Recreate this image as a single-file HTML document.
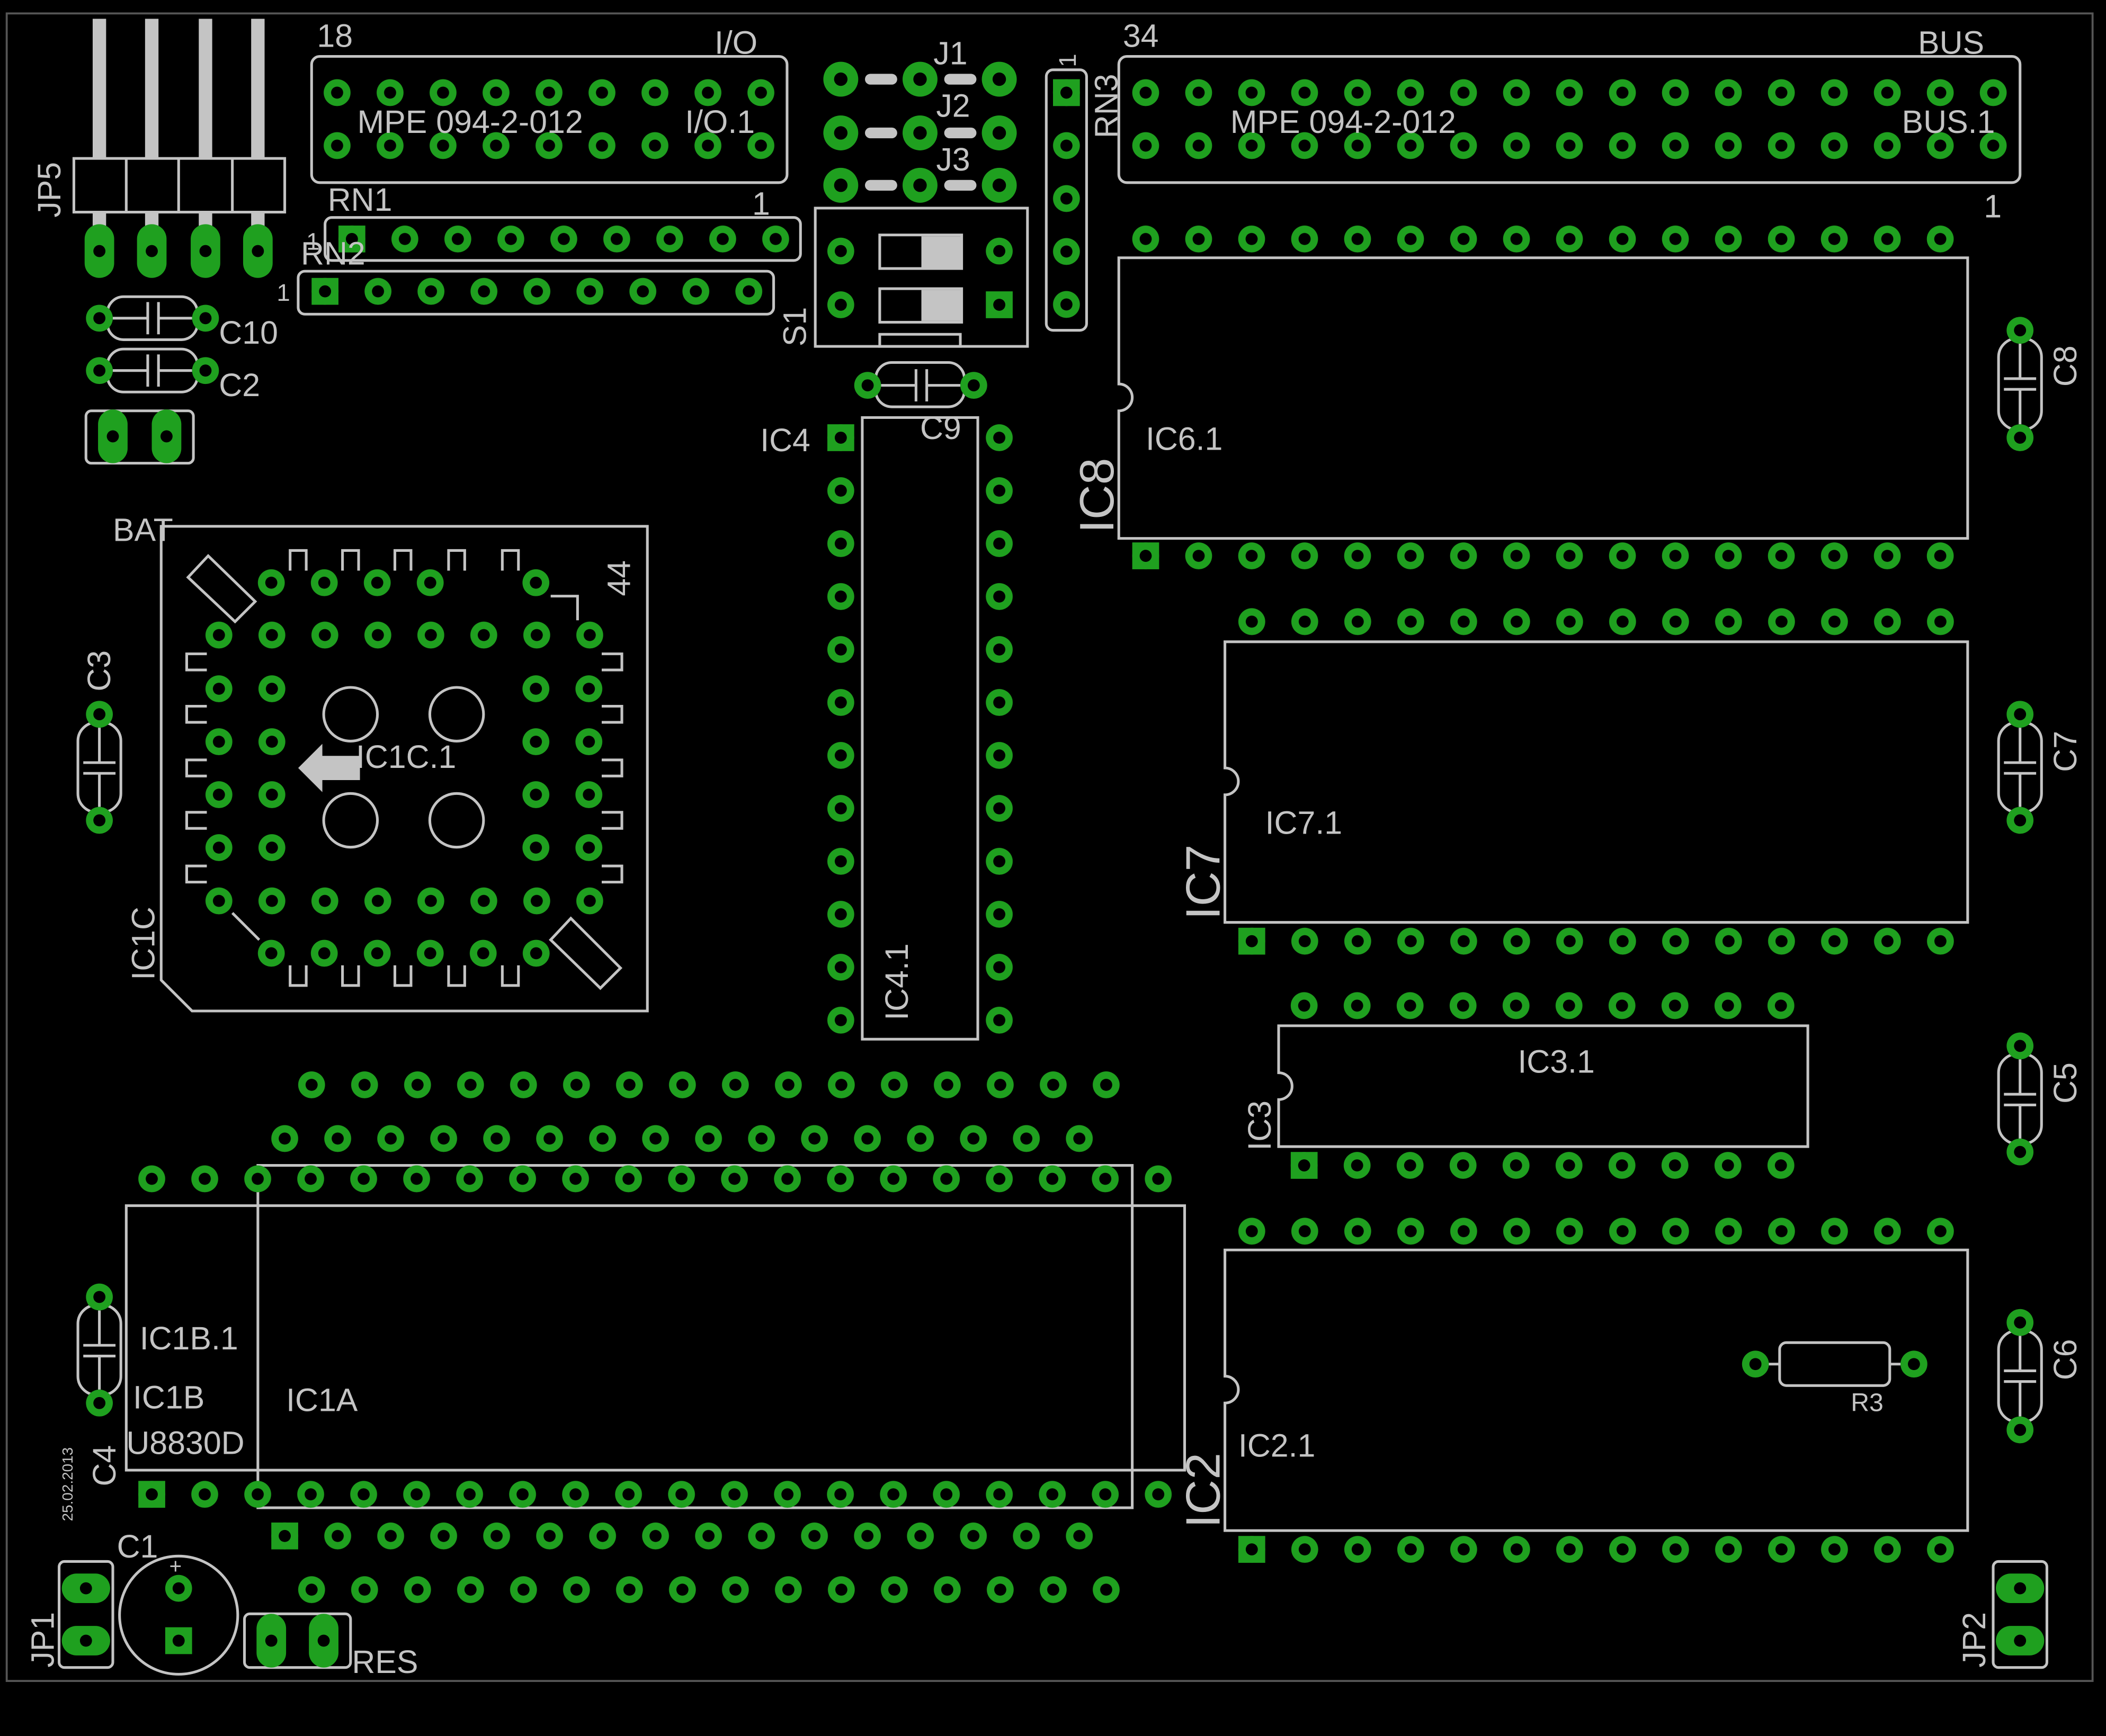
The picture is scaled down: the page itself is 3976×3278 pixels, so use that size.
<!DOCTYPE html>
<html><head><meta charset="utf-8"><style>
html,body{margin:0;padding:0;background:#000;}
svg{display:block;}
text{font-family:"Liberation Sans",sans-serif;fill:#c4c4c4;}
</style></head><body>
<svg width="3976" height="3278" viewBox="0 0 1568 1293" preserveAspectRatio="none" xmlns="http://www.w3.org/2000/svg" xmlns:xlink="http://www.w3.org/1999/xlink">
<defs>
<pattern id="pp" width="39.44" height="39.44" patternUnits="userSpaceOnUse"><circle cx="19.72" cy="19.72" r="10" fill="#1fa01f"/><circle cx="19.72" cy="19.72" r="4.5" fill="#000"/></pattern>
<g id="q"><rect x="-10" y="-10" width="20" height="20" fill="#1fa01f"/><circle r="4.5" fill="#000"/></g>
<g id="p"><circle r="10" fill="#1fa01f"/><circle r="4.5" fill="#000"/></g>
<g id="j"><circle r="13" fill="#1fa01f"/><circle r="5" fill="#000"/></g>
<g id="ov"><rect x="-11" y="-20" width="22" height="40" rx="11" fill="#1fa01f"/><circle r="4.5" fill="#000"/></g>
<g id="oh"><rect x="-18" y="-11" width="36" height="22" rx="11" fill="#1fa01f"/><circle r="4.5" fill="#000"/></g>
</defs>
<rect x="0" y="0" width="1568" height="1293" fill="#000"/>
<rect x="5" y="10" width="1553" height="1242" fill="none" stroke="#555" stroke-width="1.5"/>
<g fill="none" stroke="#c4c4c4" stroke-width="2">
<rect x="232" y="42" width="354" height="94" rx="6"/>
<rect x="833" y="42" width="671" height="94" rx="6"/>
<rect x="779" y="52" width="30" height="194" rx="5"/>
<rect x="242" y="162" width="354" height="32" rx="5"/>
<rect x="222" y="202" width="354" height="32" rx="5"/>
<rect x="607" y="155" width="158" height="103"/>
<rect x="655" y="249" width="60" height="9"/>
<rect x="652" y="270" width="66" height="33" rx="12"/>
<rect x="642" y="311" width="86" height="463"/>
<path d="M833 192H1465V401H833V306A10 10 0 0 0 833 286Z"/>
<path d="M912 478H1465V687H912V592A10 10 0 0 0 912 572Z"/>
<path d="M952 764H1346V854H952V819A10 10 0 0 0 952 799Z"/>
<path d="M912 931H1465V1140H912V1045A10 10 0 0 0 912 1025Z"/>
<rect x="1325" y="1000" width="82" height="32" rx="5"/>
<path d="M1317 1016H1325M1407 1016H1415"/>
<rect x="94" y="898" width="788" height="197"/>
<rect x="192" y="868" width="651" height="255"/>
<path d="M120 392H482V753H143L120 730Z"/>
<path d="M140 430L155 414L190 448L175 463Z"/>
<path d="M410 700L425 684L462 721L447 736Z"/>
<path d="M410 444H430V462"/>
<path d="M173 680L193 700"/>
<circle cx="261" cy="532" r="20"/><circle cx="340" cy="532" r="20"/>
<circle cx="261" cy="611" r="20"/><circle cx="340" cy="611" r="20"/>
<circle cx="133" cy="1203" r="44"/>
<rect x="64" y="306" width="80" height="39" rx="4"/>
<rect x="44" y="1163" width="40" height="79" rx="4"/>
<rect x="182" y="1202" width="79" height="40" rx="4"/>
<rect x="1484" y="1163" width="40" height="79" rx="4"/>
<rect x="55" y="118" width="157" height="40"/>
<path d="M94 118V158M133 118V158M173 118V158"/>
<rect x="1488" y="252" width="32" height="68" rx="14"/><path d="M1504 256V282M1504 290V316M1492 282H1516M1492 290H1516"/>
<rect x="1488" y="538" width="32" height="67" rx="14"/><path d="M1504 542V568M1504 576V601M1492 568H1516M1492 576H1516"/>
<rect x="1488" y="785" width="32" height="67" rx="14"/><path d="M1504 789V815M1504 823V848M1492 815H1516M1492 823H1516"/>
<rect x="1488" y="991" width="32" height="68" rx="14"/><path d="M1504 995V1021M1504 1029V1055M1492 1021H1516M1492 1029H1516"/>
<rect x="58" y="538" width="32" height="67" rx="14"/><path d="M74 542V568M74 576V601M62 568H86M62 576H86"/>
<rect x="58" y="972" width="32" height="67" rx="14"/><path d="M74 976V1002M74 1010V1035M62 1002H86M62 1010H86"/>
<path d="M656 287H682M690 287H715M682 275V299M690 275V299"/>
<rect x="80" y="221" width="67" height="32" rx="12"/><path d="M84 237H110M118 237H143M110 225V249M118 225V249"/>
<rect x="80" y="260" width="67" height="32" rx="12"/><path d="M84 276H110M118 276H143M110 264V288M118 264V288"/>
<rect x="655" y="175" width="61" height="25"/><rect x="655" y="215" width="61" height="25"/>
<path d="M216 425V410H228V425M255 425V410H267V425M294 425V410H306V425M334 425V410H346V425M374 425V410H386V425"/>
<path d="M216 719V734H228V719M255 719V734H267V719M294 719V734H306V719M334 719V734H346V719M374 719V734H386V719"/>
<path d="M154 487H139V499H154M154 526H139V538H154M154 566H139V578H154M154 605H139V617H154M154 645H139V657H154"/>
<path d="M448 487H463V499H448M448 526H463V538H448M448 566H463V578H448M448 605H463V617H448M448 645H463V657H448"/>
</g>
<g fill="#c4c4c4">
<rect x="686" y="176" width="30" height="23"/><rect x="686" y="216" width="30" height="23"/>
<path d="M222 572L240 554V563H268V581H240V590Z"/>
<rect x="644" y="55" width="24" height="8" rx="4"/><rect x="703" y="55" width="24" height="8" rx="4"/>
<rect x="644" y="95" width="24" height="8" rx="4"/><rect x="703" y="95" width="24" height="8" rx="4"/>
<rect x="644" y="134" width="24" height="8" rx="4"/><rect x="703" y="134" width="24" height="8" rx="4"/>
<rect x="69" y="14" width="10" height="104"/><rect x="108" y="14" width="10" height="104"/><rect x="148" y="14" width="10" height="104"/><rect x="187" y="14" width="10" height="104"/>
<rect x="69" y="158" width="10" height="12"/><rect x="108" y="158" width="10" height="12"/><rect x="148" y="158" width="10" height="12"/><rect x="187" y="158" width="10" height="12"/>
</g>
<g fill="url(#pp)">
<rect transform="translate(231.28,49.28)" width="354.96" height="78.88"/>
<rect transform="translate(833.28,49.28)" width="670.48" height="78.88"/>
<rect transform="translate(774.28,49.28)" width="39.44" height="197.2"/>
<rect transform="translate(242.28,158.28)" width="354.96" height="39.44"/>
<rect transform="translate(222.28,197.28)" width="354.96" height="39.44"/>
<rect transform="translate(606.28,306.28)" width="39.44" height="473.28"/>
<rect transform="translate(724.28,306.28)" width="39.44" height="473.28"/>
<rect transform="translate(833.28,158.28)" width="631.04" height="39.44"/>
<rect transform="translate(833.28,394.28)" width="631.04" height="39.44"/>
<rect transform="translate(912.28,443.28)" width="552.16" height="39.44"/>
<rect transform="translate(912.28,681.28)" width="552.16" height="39.44"/>
<rect transform="translate(951.28,729.28)" width="394.4" height="39.44"/>
<rect transform="translate(951.28,848.28)" width="394.4" height="39.44"/>
<rect transform="translate(912.28,897.28)" width="552.16" height="39.44"/>
<rect transform="translate(912.28,1134.28)" width="552.16" height="39.44"/>
<rect transform="translate(212.28,788.28)" width="631.04" height="39.44"/>
<rect transform="translate(192.28,828.28)" width="631.04" height="39.44"/>
<rect transform="translate(93.28,858.28)" width="788.8" height="39.44"/>
<rect transform="translate(93.28,1093.28)" width="788.8" height="39.44"/>
<rect transform="translate(192.28,1124.28)" width="631.04" height="39.44"/>
<rect transform="translate(212.28,1164.28)" width="631.04" height="39.44"/>
<rect transform="translate(143.28,453.28)" width="315.52" height="39.44"/>
<rect transform="translate(143.28,651.28)" width="315.52" height="39.44"/>
<rect transform="translate(143.28,493.28)" width="78.88" height="157.76"/>
<rect transform="translate(379.28,493.28)" width="78.88" height="157.76"/>
<rect transform="translate(182.28,414.28)" width="157.76" height="39.44"/>
<rect transform="translate(182.28,690.28)" width="236.64" height="39.44"/>
</g>
<use xlink:href="#j" x="626" y="59"/><use xlink:href="#j" x="685" y="59"/><use xlink:href="#j" x="744" y="59"/>
<use xlink:href="#j" x="626" y="99"/><use xlink:href="#j" x="685" y="99"/><use xlink:href="#j" x="744" y="99"/>
<use xlink:href="#j" x="626" y="138"/><use xlink:href="#j" x="685" y="138"/><use xlink:href="#j" x="744" y="138"/>
<use xlink:href="#p" x="626" y="187"/><use xlink:href="#p" x="744" y="187"/><use xlink:href="#p" x="626" y="227"/><use xlink:href="#q" x="744" y="227"/>
<use xlink:href="#p" x="399" y="434"/>
<use xlink:href="#q" x="794" y="69"/>
<use xlink:href="#q" x="262" y="178"/>
<use xlink:href="#q" x="242" y="217"/>
<use xlink:href="#q" x="626" y="326"/>
<use xlink:href="#q" x="853" y="414"/>
<use xlink:href="#q" x="932" y="701"/>
<use xlink:href="#q" x="971" y="868"/>
<use xlink:href="#q" x="932" y="1154"/>
<use xlink:href="#q" x="113" y="1113"/>
<use xlink:href="#q" x="212" y="1144"/>
<use xlink:href="#p" x="646" y="287"/><use xlink:href="#p" x="725" y="287"/>
<use xlink:href="#p" x="74" y="237"/><use xlink:href="#p" x="153" y="237"/>
<use xlink:href="#p" x="74" y="276"/><use xlink:href="#p" x="153" y="276"/>
<use xlink:href="#p" x="1504" y="246"/><use xlink:href="#p" x="1504" y="326"/>
<use xlink:href="#p" x="1504" y="532"/><use xlink:href="#p" x="1504" y="611"/>
<use xlink:href="#p" x="1504" y="779"/><use xlink:href="#p" x="1504" y="858"/>
<use xlink:href="#p" x="1504" y="985"/><use xlink:href="#p" x="1504" y="1065"/>
<use xlink:href="#p" x="74" y="532"/><use xlink:href="#p" x="74" y="611"/>
<use xlink:href="#p" x="74" y="966"/><use xlink:href="#p" x="74" y="1045"/>
<use xlink:href="#p" x="1307" y="1016"/><use xlink:href="#p" x="1425" y="1016"/>
<use xlink:href="#p" x="133" y="1183"/><use xlink:href="#q" x="133" y="1222"/>
<use xlink:href="#ov" x="74" y="187"/><use xlink:href="#ov" x="113" y="187"/><use xlink:href="#ov" x="153" y="187"/><use xlink:href="#ov" x="192" y="187"/>
<use xlink:href="#ov" x="84" y="325"/><use xlink:href="#ov" x="124" y="325"/>
<use xlink:href="#ov" x="202" y="1222"/><use xlink:href="#ov" x="241" y="1222"/>
<use xlink:href="#oh" x="64" y="1183"/><use xlink:href="#oh" x="64" y="1222"/>
<use xlink:href="#oh" x="1504" y="1183"/><use xlink:href="#oh" x="1504" y="1222"/>
<g font-size="24">
<text x="236" y="35">18</text><text x="532" y="40">I/O</text>
<text x="266" y="99">MPE 094-2-012</text><text x="510" y="99">I/O.1</text>
<text x="836" y="35">34</text><text x="1428" y="40">BUS</text>
<text x="916" y="99">MPE 094-2-012</text><text x="1416" y="99">BUS.1</text>
<text x="1477" y="162">1</text>
<text x="695" y="48">J1</text><text x="697" y="87">J2</text><text x="697" y="127">J3</text>
<text x="244" y="157">RN1</text><text x="560" y="160">1</text>
<text x="224" y="197">RN2</text><text x="228" y="186" font-size="18">1</text><text x="206" y="224" font-size="18">1</text>
<text x="685" y="327">C9</text>
<text x="566" y="336">IC4</text>
<text x="853" y="335">IC6.1</text>
<text x="942" y="621">IC7.1</text>
<text x="1130" y="799">IC3.1</text>
<text x="922" y="1085">IC2.1</text>
<text x="1378" y="1051" font-size="19">R3</text>
<text x="163" y="256">C10</text><text x="163" y="295">C2</text>
<text x="84" y="403">BAT</text>
<text x="265" y="572">IC1C.1</text>
<text x="104" y="1005">IC1B.1</text><text x="99" y="1049">IC1B</text><text x="94" y="1083">U8830D</text>
<text x="213" y="1051">IC1A</text>
<text x="87" y="1160">C1</text><text x="126" y="1172" font-size="16">+</text>
<text x="262" y="1246">RES</text>
<text transform="translate(45,162) rotate(-90)">JP5</text>
<text transform="translate(832,103) rotate(-90)">RN3</text>
<text transform="translate(801,50) rotate(-90)" font-size="18">1</text>
<text transform="translate(600,258) rotate(-90)">S1</text>
<text transform="translate(676,760) rotate(-90)">IC4.1</text>
<text transform="translate(829,397) rotate(-90)" font-size="36">IC8</text>
<text transform="translate(908,685) rotate(-90)" font-size="36">IC7</text>
<text transform="translate(946,857) rotate(-90)">IC3</text>
<text transform="translate(908,1138) rotate(-90)" font-size="36">IC2</text>
<text transform="translate(1546,288) rotate(-90)">C8</text>
<text transform="translate(1546,575) rotate(-90)">C7</text>
<text transform="translate(1546,822) rotate(-90)">C5</text>
<text transform="translate(1546,1028) rotate(-90)">C6</text>
<text transform="translate(82,515) rotate(-90)">C3</text>
<text transform="translate(469,444) rotate(-90)">44</text>
<text transform="translate(115,730) rotate(-90)">IC1C</text>
<text transform="translate(86,1107) rotate(-90)">C4</text>
<text transform="translate(54,1133) rotate(-90)" font-size="11">25.02.2013</text>
<text transform="translate(40,1242) rotate(-90)">JP1</text>
<text transform="translate(1478,1242) rotate(-90)">JP2</text>
</g>
</svg>
</body></html>
